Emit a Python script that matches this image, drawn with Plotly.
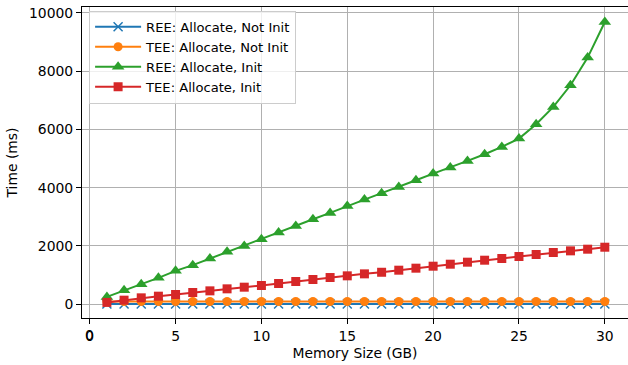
import plotly.graph_objects as go

memory_gb = list(range(1, 31))
ree_alloc_not_init = [5] * 30
tee_alloc_not_init = [90, 88, 90, 92, 90, 90, 90, 92, 90, 90, 90, 90, 90, 90, 90,
                      90, 90, 90, 90, 90, 90, 90, 90, 90, 90, 90, 90, 90, 90, 90]
ree_alloc_init = [250, 480, 686, 903, 1143, 1338, 1567, 1796, 2000, 2230,
                  2458, 2687, 2916, 3133, 3373, 3590, 3810, 4025, 4254, 4483,
                  4689, 4917, 5146, 5397, 5684, 6175, 6769, 7513, 8463, 9685]
tee_alloc_init = [60, 137, 217, 274, 332, 400, 457, 526, 583, 640,
                  709, 777, 846, 914, 972, 1040, 1095, 1166, 1235, 1303,
                  1372, 1441, 1509, 1567, 1636, 1705, 1773, 1830, 1887, 1955]
x_ticks = [0, 5, 10, 15, 20, 25, 30]
x_tick_labels = ["0", "5", "10", "15", "20", "25", "30"]
y_ticks = [0, 2000, 4000, 6000, 8000, 10000]
y_tick_labels = ["0", "2000", "4000", "6000", "8000", "10000"]

series = [
    ("REE: Allocate, Not Init", ree_alloc_not_init, "#1f77b4", "x-thin", 9),
    ("TEE: Allocate, Not Init", tee_alloc_not_init, "#ff7f0e", "circle", 9),
    ("REE: Allocate, Init", ree_alloc_init, "#2ca02c", "triangle-up", 11),
    ("TEE: Allocate, Init", tee_alloc_init, "#d62728", "square", 9),
]

FONT = "DejaVu Sans"
FS = 13.9
fig = go.Figure()
for name, ys, color, sym, size in series:
    marker = dict(symbol=sym, size=size, color=color)
    if sym == "x-thin":
        marker["line"] = dict(color=color, width=1.5)
    else:
        marker["line"] = dict(width=0)
    fig.add_trace(go.Scatter(x=memory_gb, y=ys, mode="lines+markers", name=name,
                             line=dict(color=color, width=2), marker=marker))

axis_common = dict(
    showgrid=True, gridcolor="#b0b0b0", gridwidth=1,
    showline=True, linecolor="black", linewidth=1, mirror=True,
    ticks="outside", ticklen=5, tickcolor="black", tickwidth=1,
    zeroline=False, tickmode="array", ticklabeloverflow="allow",
    tickfont=dict(family=FONT, size=FS, color="black"),
)

fig.update_layout(
    width=628, height=365,
    margin=dict(l=82, r=0, t=7, b=47),
    paper_bgcolor="white", plot_bgcolor="white",
    font=dict(family=FONT, size=FS, color="black"),
    xaxis=dict(range=[-0.45, 31.35], tickvals=x_ticks, ticktext=x_tick_labels,
               title=dict(text="Memory Size (GB)", standoff=5,
                          font=dict(family=FONT, size=FS)),
               **axis_common),
    yaxis=dict(range=[-475, 10200], tickvals=y_ticks, ticktext=y_tick_labels,
               title=dict(text="Time (ms)", standoff=8,
                          font=dict(family=FONT, size=FS)),
               **axis_common),
    legend=dict(x=0.013, y=0.988, xanchor="left", yanchor="top",
                bgcolor="rgba(255,255,255,0.8)", bordercolor="#cccccc", borderwidth=1,
                font=dict(family=FONT, size=13.1), tracegroupgap=0,
                itemwidth=46),
    showlegend=True,
)

# plotly suppresses the x tick label at the first tick next to the y axis; restore it
fig.add_annotation(x=x_ticks[0], y=0, xref="x", yref="paper", text=x_tick_labels[0],
                   showarrow=False, yanchor="top", xanchor="center", yshift=-7,
                   font=dict(family=FONT, size=FS, color="black"))

fig.write_html("out.html")
